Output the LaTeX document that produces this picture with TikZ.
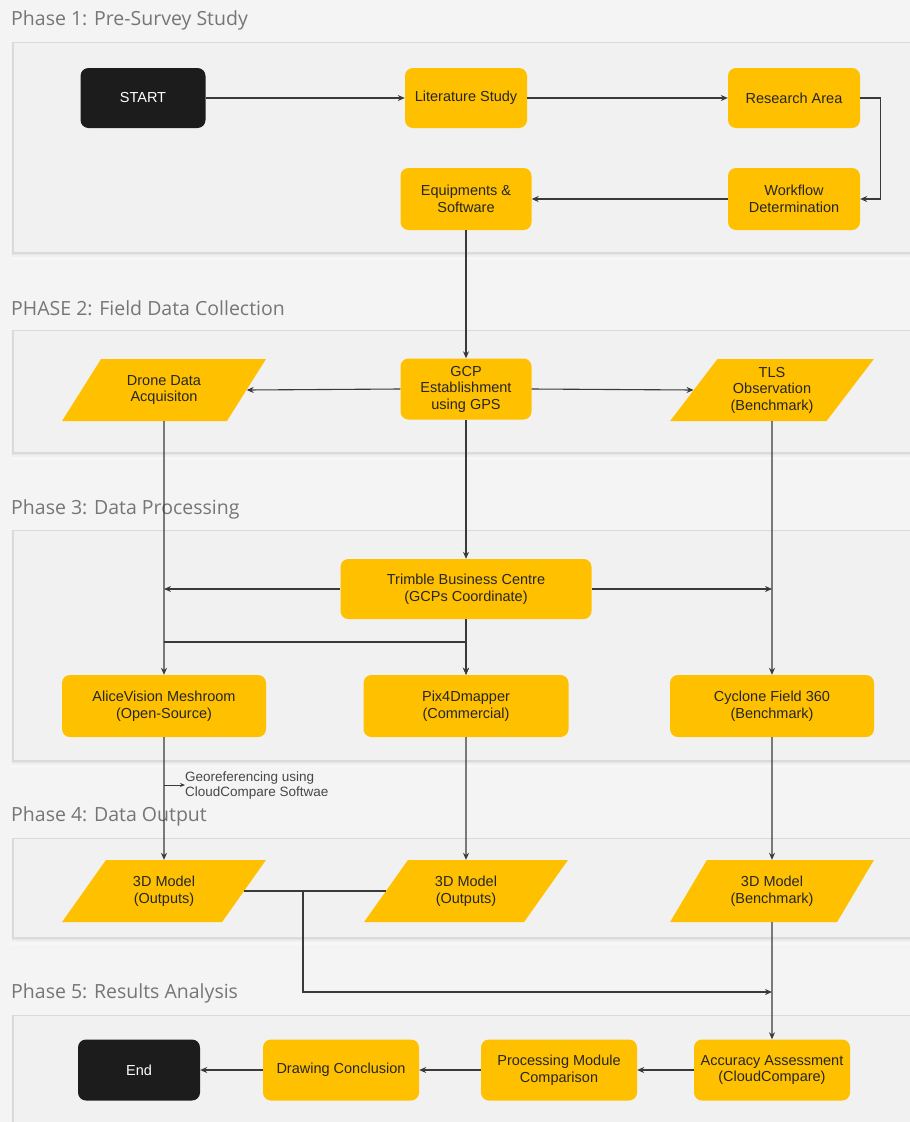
\documentclass[tikz,border=0pt]{standalone}
\usepackage{fontspec}
\setmainfont{Liberation Sans}
\newfontfamily\titlefont{Open Sans}
\usetikzlibrary{shapes.geometric,arrows.meta}
\definecolor{yel}{HTML}{FFC000}
\definecolor{blk}{HTML}{1C1C1C}
\definecolor{txt}{HTML}{262626}
\definecolor{bg}{HTML}{F4F4F4}
\definecolor{pnl}{HTML}{F1F1F1}
\definecolor{pline}{HTML}{DADADA}
\definecolor{ttl}{HTML}{767676}
\definecolor{conn}{HTML}{3A3A3A}
\begin{document}
\begin{tikzpicture}[x=1pt,y=-1pt,
  nodefont/.style={font=\fontsize{14.5}{16.5}\selectfont},
  box/.style={rectangle, rounded corners=8pt, fill=yel, text=txt, align=center, nodefont, inner sep=1pt},
  darkbox/.style={rectangle, rounded corners=8pt, fill=blk, text=white, align=center, nodefont, inner sep=1pt},
  para/.style={trapezium, trapezium left angle=52, trapezium right angle=128, trapezium stretches=true,
     minimum width=204pt, minimum height=62pt, fill=yel, text=txt, align=center, nodefont, inner sep=0pt},
  phasetitle/.style={anchor=west, text=ttl, font=\titlefont\fontsize{19.5}{22}\selectfont, inner sep=0pt},
  conn/.style={draw=conn, line width=1.1pt},
  arr/.style={conn, -{Stealth[length=7pt,width=6pt]}},
]
\useasboundingbox (0,0) rectangle (910,1122);
\clip (0,0) rectangle (910,1122);
\fill[bg] (0,0) rectangle (910,1122);

% panels
\foreach \t/\b in {42/252, 330/452, 530/760, 838/937, 1015/1140}{
  \fill[black!3] (10,\t) rectangle (915,\b+8);
  \fill[black!6] (11,\t) rectangle (915,\b+5);
  \fill[black!10] (12,\t) rectangle (915,\b+3);
  \fill[black!14] (12,\t) rectangle (915,\b+1.5);
  \filldraw[fill=pnl, draw=pline, line width=0.6pt] (13,\t) rectangle (915,\b);
}

% titles
\node[phasetitle] (t1) at (11,20) {Phase 1: Pre-Survey Study};
\node[phasetitle] (t2) at (11,308) {PHASE 2: Field Data Collection};
\node[phasetitle] (t3) at (11,509) {Phase 3: Data Processing};
\node[phasetitle] (t4) at (11,816) {Phase 4: Data Output};
\node[phasetitle] (t5) at (11,993) {Phase 5: Results Analysis};

% phase 1
\node[darkbox, minimum width=125pt, minimum height=60pt] (start) at (143,98) {START};
\node[box, minimum width=122pt, minimum height=60pt] (lit) at (466,98) {Literature Study};
\node[box, minimum width=132pt, minimum height=60pt] (res) at (794,98) {Research Area};
\node[box, minimum width=132pt, minimum height=62pt] (wf) at (794,199) {Workflow\\Determination};
\node[box, minimum width=131pt, minimum height=62pt] (eq) at (466,199) {Equipments \&\\Software};

% phase 2
\node[para] (drone) at (164,390) {Drone Data\\Acquisiton};
\node[box, minimum width=131pt, minimum height=61pt] (gcp) at (466,389) {GCP\\Establishment\\using GPS};
\node[para] (tls) at (772,390) {TLS\\Observation\\(Benchmark)};

% phase 3
\node[box, minimum width=251pt, minimum height=60pt] (tbc) at (466,589) {Trimble Business Centre\\(GCPs Coordinate)};
\node[box, minimum width=204pt, minimum height=62pt] (alice) at (164,706) {AliceVision Meshroom\\(Open-Source)};
\node[box, minimum width=205pt, minimum height=62pt] (pix) at (466,706) {Pix4Dmapper\\(Commercial)};
\node[box, minimum width=204pt, minimum height=62pt] (cyc) at (772,706) {Cyclone Field 360\\(Benchmark)};

% phase 4
\node[para] (m1) at (164,891) {3D Model\\(Outputs)};
\node[para] (m2) at (466,891) {3D Model\\(Outputs)};
\node[para] (m3) at (772,891) {3D Model\\(Benchmark)};

% phase 5
\node[darkbox, minimum width=122pt, minimum height=61pt] (end) at (139,1070) {End};
\node[box, minimum width=156pt, minimum height=61pt] (draw) at (341,1070) {Drawing Conclusion};
\node[box, minimum width=156pt, minimum height=61pt] (proc) at (559,1070) {Processing Module\\Comparison};
\node[box, minimum width=156pt, minimum height=61pt] (acc) at (772,1070) {Accuracy Assessment\\(CloudCompare)};

% georeferencing label
\coordinate (gstart) at (164,785);
\node[anchor=west, align=left, text=txt!85, font=\fontsize{13.5}{15}\selectfont, inner sep=0pt] (geo) at (185,785) {Georeferencing using\\CloudCompare Softwae};

% coordinates for routing
\coordinate (branch) at (164,642);
\coordinate (merge) at (303,891);
\coordinate (mergedown) at (303,992);

% connectors phase 1
\draw[arr] (start.east) -- (lit.west);
\draw[arr] (lit.east) -- (res.west);
\draw[arr] (res.east) -- ++(20,0) |- (wf.east);
\draw[arr] (wf.west) -- (eq.east);
\draw[arr] (eq.south) -- (gcp.north);

% phase 2
\draw[arr] (gcp.west) -- (drone.east);
\draw[arr] (gcp.east) -- (tls.west);
\draw[arr] (drone.south) -- (alice.north);
\draw[arr] (gcp.south) -- (tbc.north);
\draw[arr] (tls.south) -- (cyc.north);

% phase 3
\draw[arr] (tbc.west) -- (tbc.west -| drone.south);
\draw[arr] (tbc.east) -- (tbc.east -| tls.south);
\draw[arr] (tbc.south) -- (pix.north);
\draw[arr, line width=1.4pt] (branch) -- (branch -| pix.north) -- (pix.north);

% phase 3 -> 4
\draw[arr] (alice.south) -- (m1.north);
\draw[arr] (pix.south) -- (m2.north);
\draw[arr] (cyc.south) -- (m3.north);
\draw[conn, line width=0.8pt, -{Stealth[length=5pt,width=4pt]}] (gstart) -- (geo.west);

% phase 4 -> 5
\draw[conn] (m1.east) -- (m2.west);
\draw[arr] (merge) -- (mergedown) -- (mergedown -| m3.south);
\draw[arr] (m3.south) -- (acc.north);

% phase 5
\draw[arr] (acc.west) -- (proc.east);
\draw[arr] (proc.west) -- (draw.east);
\draw[arr] (draw.west) -- (end.east);
\end{tikzpicture}
\end{document}
